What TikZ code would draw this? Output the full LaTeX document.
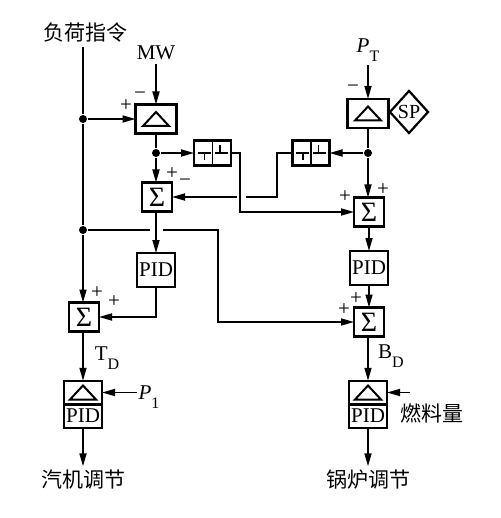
\documentclass[tikz,border=0pt]{standalone}
\usepackage{fontspec}
\setmainfont{Liberation Serif}
\newfontfamily\cjk{Noto Sans CJK SC}
\usetikzlibrary{
    arrows.meta,
    shapes.geometric,
    positioning,
    calc
}
\newcommand\lowidx[1]{\raisebox{-0.4em}{\fontsize{16}{16}\selectfont #1}}

\begin{document}
\begin{tikzpicture}[x=1pt, y=-1pt, line width=1.7pt,
    txt/.style={font=\fontsize{21}{25}\selectfont, inner sep=0pt, outer sep=4pt},
    sgn/.style={font=\fontsize{21}{23}\selectfont, inner sep=0pt},
    dot/.style={circle, fill, inner sep=0pt, minimum size=8pt},
    arr/.style={-{Triangle[length=13pt, width=7pt]}},
    blk/.style={draw, line width=2.5pt, inner sep=0pt, outer sep=0pt, font=\fontsize{21}{25}\selectfont},
    tri/.style={path picture={\draw[line width=2pt, shift={(path picture bounding box.center)}]
        (-13pt, -7pt) -- (0pt, 7pt) -- (13pt, -7pt) -- cycle;}},
    deltablk/.style={blk, tri, minimum width=41pt, minimum height=29pt},
    halfblk/.style={blk, minimum width=38pt, minimum height=23.5pt},
    sumblk/.style={blk, minimum width=30pt, minimum height=29pt, font=\fontsize{28}{30}\selectfont},
    pidblk/.style={blk, minimum width=38pt, minimum height=34pt},
    lagblk/.style={blk, minimum width=37pt, minimum height=25pt,
        path picture={\draw[line width=1.6pt, shift={(path picture bounding box.center)}]
        (0pt, 13pt) -- (0pt, -13pt)
        (-15pt, 0pt) -- (-2pt, 0pt) (-8pt, 0pt) -- (-8pt, -7pt)
        (2pt, 0pt) -- (15pt, 0pt) (7.5pt, 0pt) -- (7.5pt, 8pt);}},
    spblk/.style={draw, diamond, line width=2.2pt, inner sep=0pt, minimum width=39pt, minimum height=43pt,
        font=\fontsize{20}{22}\selectfont}
]
\useasboundingbox (0, 0) rectangle (500, 518);

\node[txt] (cmd) at (85, 33) {\cjk 负荷指令};
\node[txt] (mw) at (156, 53) {MW};
\node[deltablk] (dw) at (156, 119) {};
\node[dot] (j1) at (83, 119) {};
\node[dot] (j2) at (156, 153) {};
\node[lagblk] (lag1) at (212.5, 153) {};
\node[sumblk] (s1) at (157, 197) {Σ};
\node[dot] (j3) at (83, 230) {};
\node[pidblk] (pid1) at (156, 270) {PID};
\node[sumblk] (s4) at (84, 317) {Σ};
\node[halfblk, tri] (tdtop) at (83, 392.5) {};
\node[halfblk, below=0pt of tdtop] (tdbot) {PID};
\node[txt] (td) at (107, 358) {T\lowidx{D}};
\node[txt] (p1) at (149, 397) {\textit{P}\lowidx{1}};
\node[txt] (qj) at (83, 480) {\cjk 汽机调节};

\node[txt] (pt) at (368, 50) {\textit{P}\lowidx{T}};
\node[deltablk] (dp) at (368, 113.5) {};
\node[spblk] (sp) at (409, 112) {SP};
\node[dot] (j4) at (368, 153) {};
\node[lagblk] (lag2) at (311, 153) {};
\node[sumblk] (s2) at (369, 212) {Σ};
\node[pidblk] (pid2) at (369, 268) {PID};
\node[sumblk] (s3) at (369, 322) {Σ};
\node[halfblk, tri] (bdtop) at (368, 392.5) {};
\node[halfblk, below=0pt of bdtop] (bdbot) {PID};
\node[txt] (bd) at (391, 356) {B\lowidx{D}};
\node[txt] (fuel) at (432, 413) {\cjk 燃料量};
\node[txt] (gl) at (368, 480) {\cjk 锅炉调节};

\node[sgn] (dwp) at (126, 106) {+};
\node[sgn] (dwm) at (140, 96) {−};
\node[sgn] (s1p) at (172, 174) {+};
\node[sgn] (s1m) at (185, 183) {−};
\node[sgn] (s4a) at (97, 293) {+};
\node[sgn] (s4b) at (114, 302) {+};
\node[sgn] (dpm) at (353, 89) {−};
\node[sgn] (s2a) at (345, 197) {+};
\node[sgn] (s2b) at (383, 190) {+};
\node[sgn] (s3a) at (344, 310) {+};
\node[sgn] (s3b) at (356, 299) {+};

\coordinate (b1) at (240, 153);
\coordinate (b2) at (277, 153);
\coordinate (gapR) at (246, 197);
\coordinate (gapL) at (237, 197);
\coordinate (b3) at (218, 230);
\coordinate (gap2L) at (150, 230);
\coordinate (gap2R) at (163, 230);
\coordinate (p1in) at (137, 392.5);
\coordinate (fuelin) at (410, 392.5);

\draw (cmd.south -| j1) -- (j1) -- (j3);
\draw[arr] (j3) -- (j3 |- s4.north);
\draw[arr] (mw) -- (dw);
\draw[arr] (j1) -- (dw);
\draw (dw) -- (j2);
\draw[arr] (j2) -- (j2 |- s1.north);
\draw[arr] (j2) -- (lag1);
\draw[arr] (lag1) -- (b1) |- (s2);
\draw (lag2) -- (b2) |- (gapR);
\draw[arr] (gapL) -- (s1);
\draw[arr] (s1.south -| pid1) -- (pid1);
\draw (j3) -- (gap2L);
\draw[arr] (gap2R) -- (b3) |- (s3);
\draw[arr] (pid1) |- (s4);
\draw[arr] (s4.south -| tdtop) -- (tdtop);
\draw[arr] (p1in) -- (tdtop);
\draw[arr] (tdbot) -- (qj);

\draw[arr] (pt) -- (dp);
\draw (dp) -- (j4);
\draw[arr] (j4) -- (lag2);
\draw[arr] (j4) -- (j4 |- s2.north);
\draw[arr] (s2.south -| pid2) -- (pid2);
\draw[arr] (pid2) -- (s3);
\draw[arr] (s3.south -| bdtop) -- (bdtop);
\draw[arr] (fuelin) -- (bdtop);
\draw[arr] (bdbot) -- (gl);
\end{tikzpicture}
\end{document}
